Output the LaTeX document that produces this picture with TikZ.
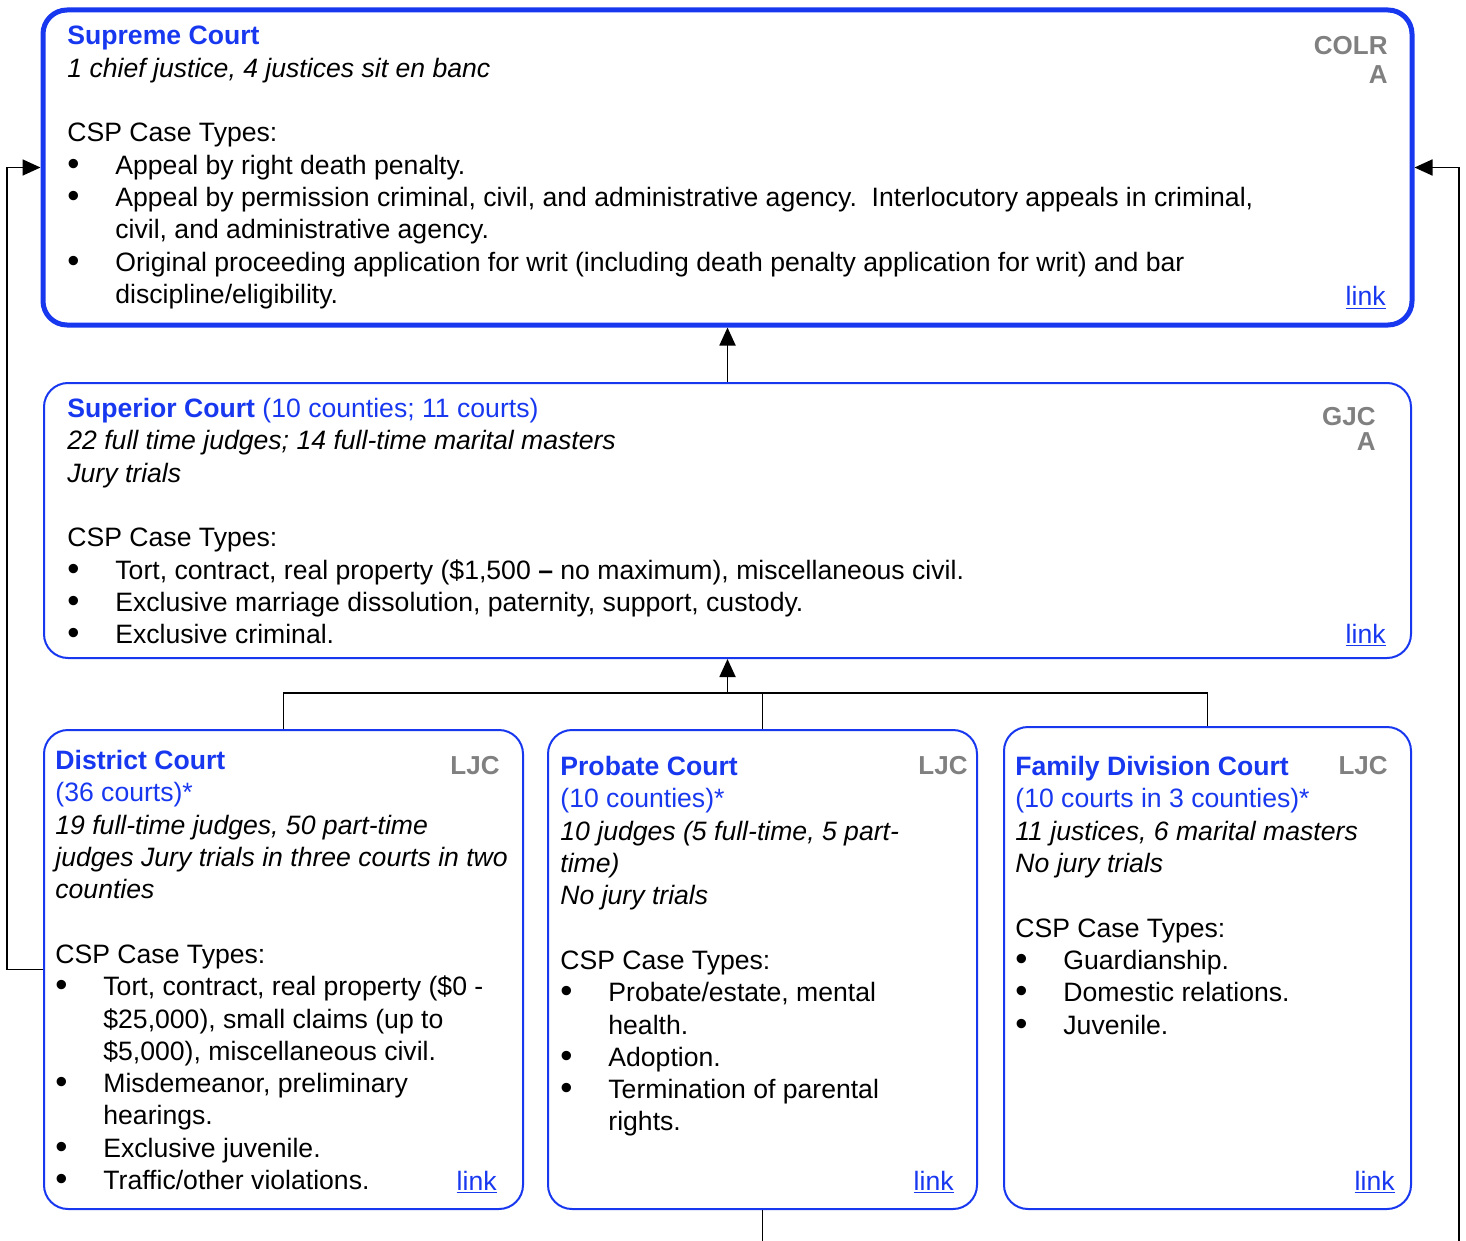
\documentclass[tikz,border=0pt]{standalone}
\usepackage{fontspec}
\setmainfont{Liberation Sans}
\usepackage{xcolor}
\usetikzlibrary{arrows.meta,positioning}

\definecolor{courtblue}{RGB}{24,56,240}
\definecolor{taggray}{RGB}{128,128,128}
\newcommand{\bul}{\makebox[24pt][l]{\raisebox{-0.6pt}{\scalebox{1.3}{\textbullet}}}}
\newcommand{\hang}{\hspace*{24pt}}
\newcommand{\lnk}{\textcolor{courtblue}{\underline{link}}}
\newcommand{\ctitle}[1]{{\bfseries\color{courtblue}#1}}

\begin{document}
\begin{tikzpicture}[x=0.5pt, y=-0.5pt,
    font=\fontsize{13.3}{16.15}\selectfont,
    topbox/.style={draw=courtblue, line width=2.5pt, rounded corners=12pt},
    courtbox/.style={draw=courtblue, line width=1pt, rounded corners=12pt},
    body/.style={anchor=north west, align=left, inner sep=0pt},
    tag/.style={anchor=north east, align=right, inner sep=0pt, text=taggray, font=\fontsize{13}{14.5}\selectfont\bfseries},
    linknode/.style={anchor=base east, inner sep=0pt},
    arrow/.style={-{Triangle[length=9pt,width=8pt]}, line width=0.9pt},
    line/.style={line width=0.9pt},
]
\useasboundingbox (0,0) rectangle (1466,1241);

% court boxes
\node[topbox, minimum width=684.5pt, minimum height=157.5pt] (supreme) at (727.5,167.5) {};
\node[courtbox, minimum width=683.5pt, minimum height=137.5pt] (superior) at (727.5,520.5) {};
\node[courtbox, minimum width=239.5pt, minimum height=239.5pt] (district) at (283.5,969.5) {};
\node[courtbox, minimum width=214.5pt, minimum height=239.5pt] (probate) at (762.5,969.5) {};
\node[courtbox, minimum width=203.5pt, minimum height=241pt] (family) at (1207.5,968) {};

% Supreme Court
\node[body] (suptext) at (67,26) {\ctitle{Supreme Court}\\
  {\itshape 1 chief justice, 4 justices sit en banc}\\[16.15pt]
  CSP Case Types:\\
  \bul Appeal by right death penalty.\\
  \bul Appeal by permission criminal, civil, and administrative agency.\ \ Interlocutory appeals in criminal,\\
  \hang civil, and administrative agency.\\
  \bul Original proceeding application for writ (including death penalty application for writ) and bar\\
  \hang discipline/eligibility.};
\node[tag] (suptag) at (1388,36) {COLR\\A};
\node[linknode] (suplink) at (1386,306) {\lnk};

% Superior Court
\node[body] (gjctext) at (67,398) {\ctitle{Superior Court} {\color{courtblue}(10 counties; 11 courts)}\\
  {\itshape 22 full time judges; 14 full-time marital masters}\\
  {\itshape Jury trials}\\[16.15pt]
  CSP Case Types:\\
  \bul Tort, contract, real property (\$1,500 \textbf{--} no maximum), miscellaneous civil.\\
  \bul Exclusive marriage dissolution, paternity, support, custody.\\
  \bul Exclusive criminal.};
\node[tag, font=\fontsize{13}{12.5}\selectfont\bfseries] (gjctag) at (1376,407) {GJC\\A};
\node[linknode] (gjclink) at (1386,643) {\lnk};

% District Court
\node[body] (distext) at (55,750) {\ctitle{District Court}\\
  {\color{courtblue}(36 courts)*}\\
  {\itshape 19 full-time judges, 50 part-time}\\
  {\itshape judges Jury trials in three courts in two}\\
  {\itshape counties}\\[16.15pt]
  CSP Case Types:\\
  \bul Tort, contract, real property (\$0 -\\
  \hang \$25,000), small claims (up to\\
  \hang \$5,000), miscellaneous civil.\\
  \bul Misdemeanor, preliminary\\
  \hang hearings.\\
  \bul Exclusive juvenile.\\
  \bul Traffic/other violations.};
\node[tag] (distag) at (500,756) {LJC};
\node[linknode] (dislink) at (497,1190) {\lnk};

% Probate Court
\node[body] (protext) at (560,756) {\ctitle{Probate Court}\\
  {\color{courtblue}(10 counties)*}\\
  {\itshape 10 judges (5 full-time, 5 part-}\\
  {\itshape time)}\\
  {\itshape No jury trials}\\[16.15pt]
  CSP Case Types:\\
  \bul Probate/estate, mental\\
  \hang health.\\
  \bul Adoption.\\
  \bul Termination of parental\\
  \hang rights.};
\node[tag] (protag) at (968,756) {LJC};
\node[linknode] (prolink) at (954,1190) {\lnk};

% Family Division Court
\node[body] (famtext) at (1015,756) {\ctitle{Family Division Court}\\
  {\color{courtblue}(10 courts in 3 counties)*}\\
  {\itshape 11 justices, 6 marital masters}\\
  {\itshape No jury trials}\\[16.15pt]
  CSP Case Types:\\
  \bul Guardianship.\\
  \bul Domestic relations.\\
  \bul Juvenile.};
\node[tag] (famtag) at (1388,756) {LJC};
\node[linknode] (famlink) at (1395,1190) {\lnk};

% connectors
\coordinate (jn) at (727.5,693);
\coordinate (rbot) at (1459,1241);
\coordinate (pbot) at (762.5,1241);
\draw[arrow] (superior.north) -- (supreme.south);
\draw[arrow] (jn) -- (superior.south);
\draw[line] (district.north) |- (jn) -| (family.north);
\draw[line] (probate.north) -- (probate.north |- jn);
\draw[arrow] (district.west) -- ++(-36,0) |- (supreme.west);
\draw[arrow] (rbot) |- (supreme.east);
\draw[line] (probate.south) -- (pbot);
\end{tikzpicture}
\end{document}
